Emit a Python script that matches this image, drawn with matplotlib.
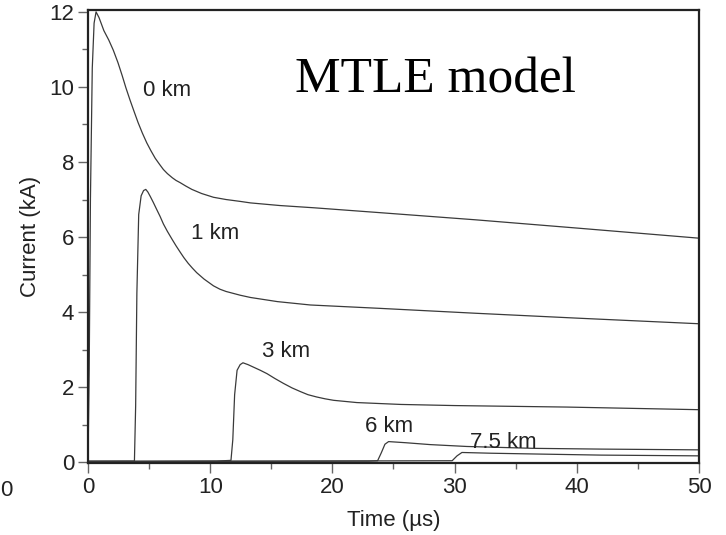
import matplotlib
matplotlib.use("Agg")
import matplotlib.pyplot as plt
from matplotlib.ticker import MultipleLocator

# Channel-base and height-dependent currents (kA) versus time (us)
t_0km = [0, 0.1, 0.2, 0.35, 0.5, 0.66, 0.9, 1.3, 1.7, 2.07, 2.45, 2.8, 3.1, 3.44, 3.8,
         4.1, 4.45, 4.81, 5.15, 5.5, 5.85, 6.17, 6.5, 6.9, 7.2, 7.54, 8.0, 8.5, 9.3,
         10.27, 11.3, 12.46, 13.3, 15.7, 18.5, 23.9, 31.7, 40, 50]
i_0km = [0, 2.5, 7.0, 10.5, 11.7, 12.0, 11.85, 11.5, 11.25, 10.98, 10.65, 10.3, 9.98, 9.65, 9.32,
         9.05, 8.77, 8.51, 8.3, 8.1, 7.94, 7.80, 7.69, 7.58, 7.51, 7.45, 7.36, 7.27, 7.16,
         7.06, 7.0, 6.95, 6.91, 6.84, 6.78, 6.65, 6.46, 6.24, 5.97]

t_1km = [0, 3.8, 3.9, 4.0, 4.15, 4.35, 4.55, 4.73, 4.9, 5.1, 5.35, 5.6, 5.9, 6.17, 6.5,
         6.9, 7.2, 7.54, 7.85, 8.2, 8.55, 8.9, 9.5, 10.27, 10.8, 11.3, 12.46, 13.3, 15.5,
         18.2, 23.9, 31.7, 40, 50]
i_1km = [0.03, 0.03, 1.5, 4.5, 6.6, 7.1, 7.24, 7.27, 7.2, 7.08, 6.92, 6.75, 6.55, 6.35, 6.15,
         5.93, 5.77, 5.6, 5.45, 5.3, 5.17, 5.05, 4.88, 4.70, 4.61, 4.55, 4.45, 4.39, 4.28,
         4.19, 4.10, 3.97, 3.84, 3.69]

t_3km = [0, 10.5, 11.7, 11.85, 12.0, 12.2, 12.45, 12.68, 13.1, 13.5, 14.1, 14.65, 15.3,
         16, 16.7, 17.4, 18.0, 18.7, 19.4, 20.1, 22, 25.6, 30, 39.2, 50]
i_3km = [0.02, 0.03, 0.05, 0.6, 1.8, 2.45, 2.6, 2.65, 2.6, 2.54, 2.45, 2.36, 2.23,
         2.1, 1.98, 1.88, 1.8, 1.74, 1.69, 1.65, 1.59, 1.54, 1.51, 1.47, 1.40]

t_6km = [0, 23.0, 23.7, 24.0, 24.3, 24.6, 26, 28, 31.0, 36.5, 42, 50]
i_6km = [0.02, 0.03, 0.04, 0.25, 0.48, 0.55, 0.52, 0.47, 0.42, 0.37, 0.35, 0.33]

t_75km = [0, 29.8, 30.2, 30.6, 33, 36.5, 42, 50]
i_75km = [0.02, 0.04, 0.17, 0.26, 0.24, 0.22, 0.19, 0.17]

curve_labels = ["0 km", "1 km", "3 km", "6 km", "7.5 km"]
label_pos = [(6.5, 9.9), (10.4, 6.1), (16.2, 2.96), (24.6, 0.96), (34.0, 0.53)]

plt.rcParams["font.family"] = ["Liberation Sans", "DejaVu Sans"]

fig = plt.figure(figsize=(7.26, 5.35), dpi=100)
ax = fig.add_axes([0.1212, 0.1346, 0.8416, 0.8467])

line_kw = dict(color="#3a3a3a", linewidth=0.9)
for t, i in [(t_0km, i_0km), (t_1km, i_1km), (t_3km, i_3km), (t_6km, i_6km), (t_75km, i_75km)]:
    ax.plot(t, i, **line_kw)

for text, (x, y) in zip(curve_labels, label_pos):
    ax.text(x, y, text, fontsize=16, color="#222222", ha="center", va="center")

ax.text(0.339, 0.817, "MTLE model", transform=ax.transAxes, fontsize=37,
        family=["Liberation Serif", "DejaVu Serif"], color="black",
        va="baseline", ha="left")

ax.set_xlim(0, 50)
ax.set_ylim(-0.02, 12.05)
ax.xaxis.set_major_locator(MultipleLocator(10))
ax.xaxis.set_minor_locator(MultipleLocator(5))
ax.yaxis.set_major_locator(MultipleLocator(2))
ax.yaxis.set_minor_locator(MultipleLocator(1))

ax.tick_params(which="major", direction="out", length=7, width=1, color="#666666",
               labelsize=16, labelcolor="#222222", pad=3)
ax.tick_params(which="minor", direction="out", length=4, width=1, color="#666666")

for s in ax.spines.values():
    s.set_linewidth(1.6)
    s.set_color("#222222")

ax.set_xlabel("Time (\u00b5s)", fontsize=16, color="#222222", labelpad=9)
ax.set_ylabel("Current (kA)", fontsize=16, color="#222222", labelpad=6)

fig.text(0.0, 1 - 490 / 535, "0", fontsize=16, color="#222222", ha="left", va="center")

fig.savefig("out.png", dpi=100)
